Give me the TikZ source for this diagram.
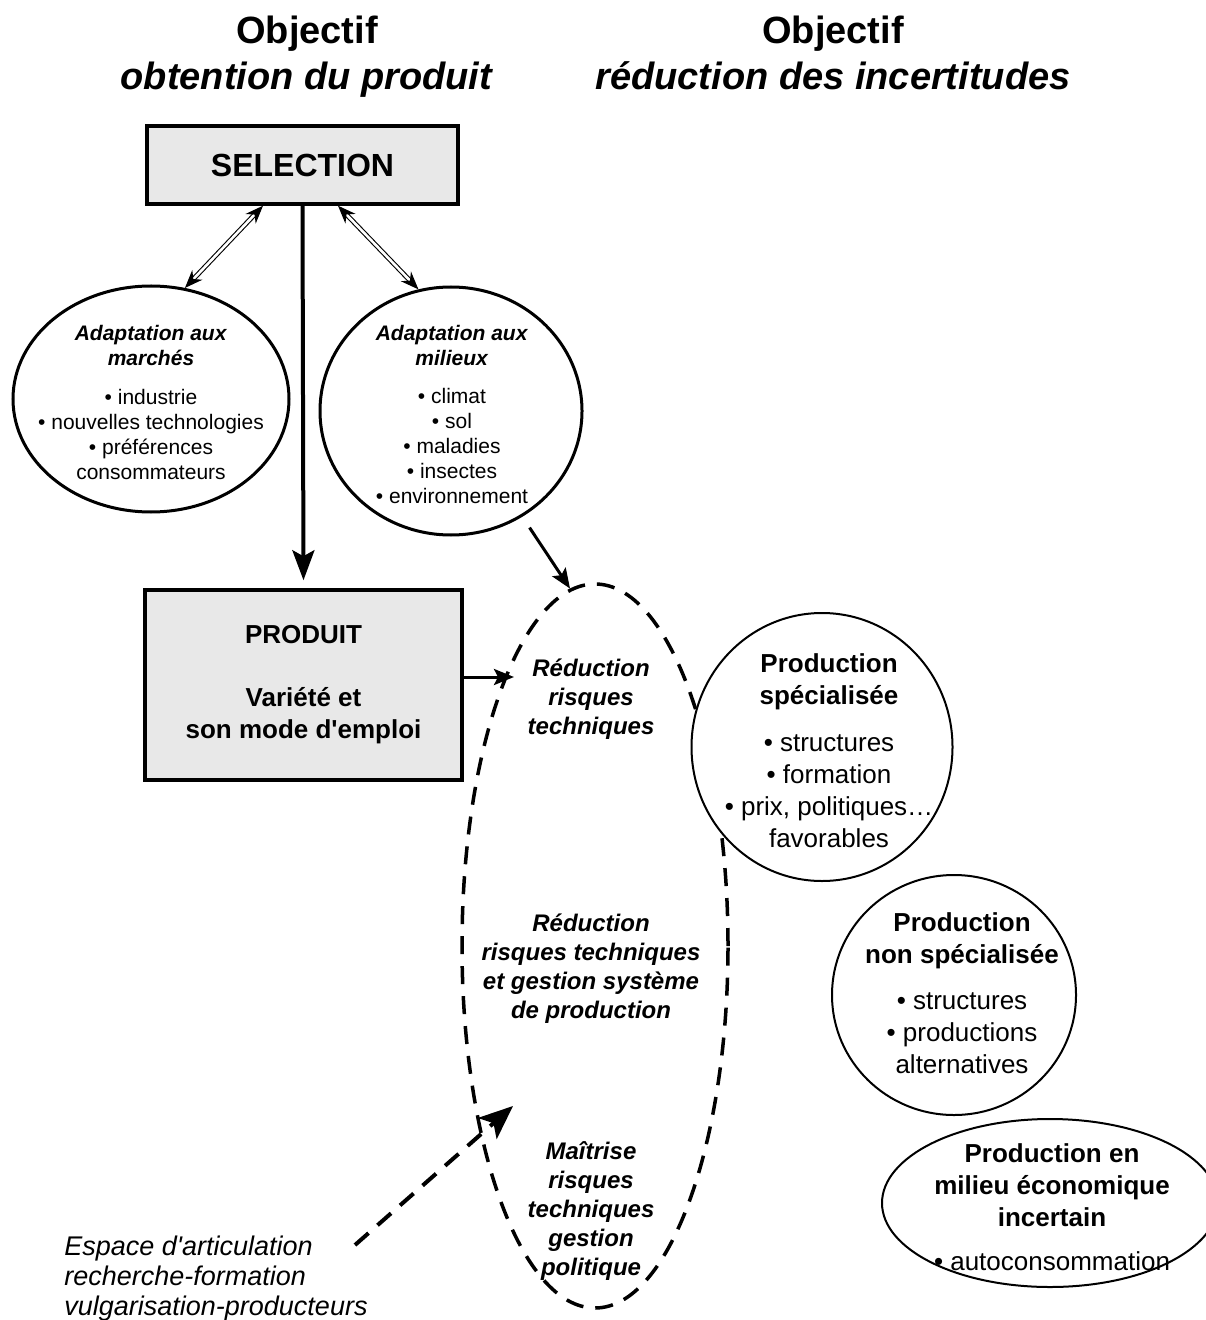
\documentclass[tikz,border=0pt]{standalone}
\usepackage{fontspec}
\setmainfont{Liberation Sans}[Ligatures=TeXOff]
\usetikzlibrary{arrows.meta,shapes.geometric}
\definecolor{boxgray}{HTML}{E8E8E8}
\begin{document}
\begin{tikzpicture}[x=0.5pt,y=-0.5pt,
  boxst/.style={draw,line width=1.75pt,fill=boxgray,inner sep=0pt,align=center},
  ovalA/.style={ellipse,draw,line width=1.5pt,fill=white,inner sep=0pt},
  ovalB/.style={ellipse,draw,line width=1pt,fill=white,inner sep=0pt},
  dashoval/.style={ellipse,draw,line width=1.75pt,dash pattern=on 9pt off 6pt,inner sep=0pt},
  txt/.style={align=center,inner sep=0pt,yshift=-2.25pt,execute at begin node=\strut,execute at end node=\strut},
  dblarr/.style={double,double distance=1.3pt,line width=0.55pt,>={Stealth[length=9pt,width=7pt]},<->},
  midarr/.style={line width=1.5pt,-{Stealth[length=10pt,width=8pt,inset=2pt]}},
  bigarr/.style={line width=2pt,-{Stealth[length=15pt,width=11pt,inset=3pt]}},
  dasharr/.style={line width=2pt,dash pattern=on 9pt off 6pt,-{Stealth[length=17pt,width=14pt,inset=4pt]}},
  smalltxt/.style={txt,font=\fontsize{10.5}{12.5}\selectfont},
  midtxt/.style={txt,font=\fontsize{13}{16}\selectfont},
  risktxt/.style={txt,font=\bfseries\itshape\fontsize{12}{14.5}\selectfont},
]
\useasboundingbox (0,0) rectangle (1205,1320);

% titles
\node[txt,font=\fontsize{19}{23}\selectfont] (ttl1) at (307,55) {\textbf{Objectif}\\\textbf{\textit{obtention du produit}}};
\node[txt,font=\fontsize{19}{23}\selectfont] (ttl2) at (833,55) {\textbf{Objectif}\\\textbf{\textit{réduction des incertitudes}}};

% boxes
\node[boxst,minimum width=155.5pt,minimum height=39pt,font=\bfseries\fontsize{16}{19}\selectfont] (sel) at (302.5,165) {SELECTION};
\node[boxst,minimum width=158.5pt,minimum height=95pt,font=\bfseries\fontsize{13}{16}\selectfont] (prod) at (303.5,685) {PRODUIT\\[15.5pt]Variété et\\son mode d'emploi};

% adaptation ellipses
\node[ovalA,minimum width=138pt,minimum height=113pt] (ellL) at (151,399) {};
\node[smalltxt] (ellLt) at (151,402) {\textbf{\textit{Adaptation aux}}\\\textbf{\textit{marchés}}\\[7pt]• industrie\\• nouvelles technologies\\• préférences\\consommateurs};
\node[ovalA,minimum width=131pt,minimum height=124pt] (ellR) at (451,411) {};
\node[smalltxt] (ellRt) at (452,414) {\textbf{\textit{Adaptation aux}}\\\textbf{\textit{milieux}}\\[6.5pt]• climat\\• sol\\• maladies\\• insectes\\• environnement};

% dashed ellipse
\node[dashoval,minimum width=133pt,minimum height=362pt] (risk) at (595,946) {};
\node[risktxt] (rk1) at (591,697) {Réduction\\risques\\techniques};
\node[risktxt] (rk2) at (591,966) {Réduction\\risques techniques\\et gestion système\\de production};
\node[risktxt] (rk3) at (591,1208) {Maîtrise\\risques\\techniques\\gestion\\politique};

% production circles (white fill hides the dashed ellipse where they overlap)
\node[ovalB,minimum width=130.5pt,minimum height=134pt] (ps) at (822,747) {};
\node[midtxt] (pst) at (829,751) {\textbf{Production}\\\textbf{spécialisée}\\[7.5pt]• structures\\• formation\\• prix, politiques…\\favorables};
\node[ovalB,minimum width=122pt,minimum height=120pt] (pns) at (954,995) {};
\node[midtxt] (pnst) at (962,993) {\textbf{Production}\\\textbf{non spécialisée}\\[7pt]• structures\\• productions\\alternatives};
\node[ovalB,minimum width=168pt,minimum height=84pt] (pmi) at (1050,1203) {};
\node[midtxt] (pmit) at (1052,1207) {\textbf{Production en}\\\textbf{milieu économique}\\\textbf{incertain}\\[6pt]• autoconsommation};

% bottom-left text
\node[anchor=west,align=left,inner sep=0pt,font=\itshape\fontsize{13.5}{15}\selectfont] (esp) at (64,1279) {Espace d'articulation\\recherche-formation\\vulgarisation-producteurs};

% connectors
\draw[bigarr,shorten >=4pt] (sel.south) -- (prod.north);
\draw[dblarr] ([xshift=-19.75pt]sel.south) -- (ellL.73);
\draw[dblarr] ([xshift=17.75pt]sel.south) -- (ellR.105);
\draw[midarr,shorten <=6.5pt] (ellR.-56) -- (risk.94);
\coordinate (pin) at (514,677);
\draw[midarr] ([yshift=4pt]prod.east) -- (pin);
\coordinate (dstart) at (355,1245);
\coordinate (dtip) at (513,1106);
\draw[dasharr] (dstart) -- (dtip);
\end{tikzpicture}
\end{document}
